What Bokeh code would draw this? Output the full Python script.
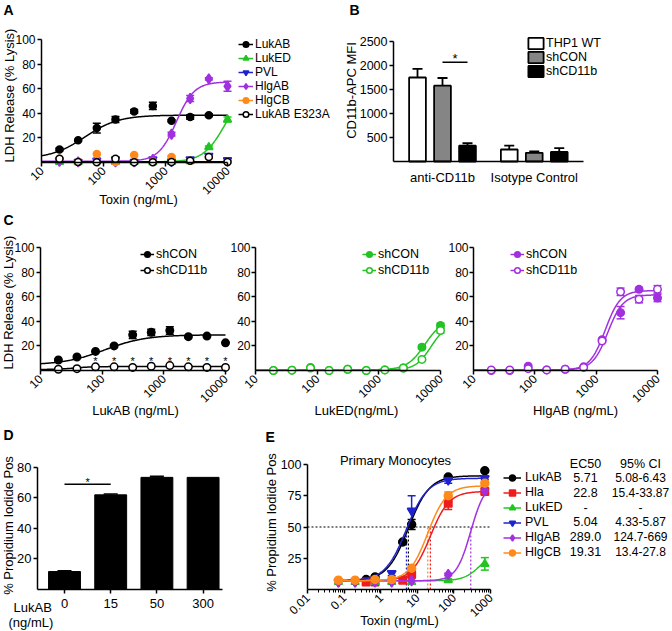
import math
import numpy as np
from bokeh.plotting import figure
from bokeh.layouts import column, row
from bokeh.models import (ColumnDataSource, Whisker, TeeHead, Legend, LegendItem, Label,
                          FixedTicker, Range1d, CustomJSTickFormatter)
from bokeh.core.properties import value
from bokeh.embed import file_html
from bokeh.resources import INLINE

FONT = "Liberation Sans"

# ---------------- DATA ----------------
# Panel A: LDH release vs toxin dose
a_dose = [19.5, 39, 78, 156, 312.5, 625, 1250, 2500, 5000, 10000]
a_names = ["LukAB", "LukED", "PVL", "HlgAB", "HlgCB", "LukAB E323A"]
a_lukab = [10.5, 18, 28, 35, 41.5, 46, 34, 37, 38.5, None]
a_lukab_err = [1, 0.8, 4, 2.5, 1.5, 3, 0.8, 1.8, 1.2, 0]
a_luked = [0.5, 0.3, 1.5, 0.5, 0.5, 0.3, 0.5, 1.0, 12.5, 35]
a_luked_err = [0, 0, 0, 0, 0, 0, 0, 0, 1, 2]
a_pvl = [1.5, 0.5, 1.5, 2.5, 0.5, 2.5, 0.5, 2.5, 5.5, 2]
a_pvl_err = [0, 0, 0, 0, 0, 0, 0, 0, 1, 1]
a_hlgab = [1, 0.5, 2.5, 0.5, 0.5, 2.5, 23, 52, 68, 62]
a_hlgab_err = [0, 0, 0, 0, 0, 0, 1.5, 2.5, 1, 4]
a_hlgcb = [3, 0.5, 7, 0.5, 6, 0.5, 4.5, 1.5, 4.5, 0.5]
a_hlgcb_err = [0, 0, 0, 0, 0, 0, 1, 0, 0, 0]
a_e323a = [3, 0.5, 0.3, 3, 0.3, 0.3, 0.5, 1.5, 4.5, 0.5]
a_e323a_err = [0] * 10
# 4-parameter logistic fits (bottom, top, EC50, hill)
a_fit = [(3, 38.5, 50, 1.6), (0.5, 60, 9000, 2.5), (0.7, 0.7, 100, 1),
         (1, 65.5, 1500, 3), (0.7, 0.7, 100, 1), (0.7, 0.7, 100, 1)]
a_xticks = [10, 100, 1000, 10000]
a_yticks = [20, 40, 60, 80, 100]

# Panel B: CD11b-APC MFI
b_groups = ["anti-CD11b", "Isotype Control"]
b_series = ["THP1 WT", "shCON", "shCD11b"]
b_thp1 = [1750, 250]
b_thp1_err = [180, 80]
b_shcon = [1580, 180]
b_shcon_err = [160, 30]
b_shcd11b = [330, 200]
b_shcd11b_err = [50, 80]
b_sig_y = 2070
b_yticks = [500, 1000, 1500, 2000, 2500]

# Panel C: shCON vs shCD11b
c_dose = [19.5, 39, 78, 156, 312.5, 625, 1250, 2500, 5000, 10000]
c_labels = ["shCON", "shCD11b"]
c1_shcon = [8.5, 11, 15.5, 20, 29, 31, 32.5, 27.5, 28, 22.5]
c1_shcon_err = [0, 0, 0, 0, 3, 2.5, 3, 0, 0, 0]
c1_shcd11b = [1, 1.5, 3, 3, 2.5, 3.5, 4, 3, 2.5, 2.5]
c1_shcd11b_err = [0] * 10
c1_fit = [(4.5, 29, 110, 1.3), (0.8, 3.2, 35, 3)]
c1_star_level = 8
c2_shcon = [0, 0.3, 2.5, 0, 1, 0, 0.5, 2, 19, 36.5]
c2_shcon_err = [0, 0, 0, 0, 0, 0, 0, 0, 1.5, 2]
c2_shcd11b = [0, 0.3, 2, 0, 1, 0, 0.5, 2, 9, 32.5]
c2_shcd11b_err = [0, 0, 0, 0, 0, 0, 0, 0, 1, 2]
c2_fit = [(0.5, 42, 5600, 3), (0.5, 38, 7000, 3.5)]
c3_shcon = [0, 0, 3.5, 0.5, 1, 3, 25, 47, 66, 59]
c3_shcon_err = [0, 0, 0, 0, 0, 0, 1, 5, 1.5, 3]
c3_shcd11b = [0.5, 0.5, 1.5, 0.5, 1, 2.5, 24, 64, 58, 66]
c3_shcd11b_err = [0, 0, 0, 0, 0, 0, 1, 3, 3, 3]
c3_fit = [(0.5, 61.5, 1550, 3.5), (0.5, 65, 1400, 3.5)]

# Panel D: PI positive primary cells
d_labels = ["0", "15", "50", "300"]
d_vals = [11.5, 62, 73.5, 73.5]
d_err = [0.5, 0.6, 0.8, 0]
d_sig_pair = (0, 1)
d_sig_y = 69
d_yticks = [20, 40, 60, 80]

# Panel E: primary monocytes
e_dose = [0.07, 0.2, 0.4, 0.7, 2, 4, 7, 70, 700]
e_names = ["LukAB", "Hla", "LukED", "PVL", "HlgAB", "HlgCB"]
e_lukab = [None, None, 8, 10, None, 38, 52, 90, 95]
e_lukab_err = [0, 0, 0, 1, 0, 1, 4, 0, 1]
e_hla = [None, None, 6, 6, None, 7.5, 12, 69, 78.5]
e_hla_err = [0, 0, 0, 0, 0, 0, 1.5, 5, 2]
e_luked = [6, 6, None, 6, 6, None, 6, 7.5, 20.5]
e_luked_err = [0, 0, 0, 0, 0, 0, 0, 1, 5]
e_pvl = [6, 6, None, None, 13, None, 63, 87.5, 89]
e_pvl_err = [0, 0, 0, 0, 2, 0, 12, 2.5, 1]
e_hlgab = [6, 6, None, 6, 6, None, 7, 12, 79]
e_hlgab_err = [0, 0, 0, 0, 0, 0, 0, 1, 2]
e_hlgcb = [7.5, 7.5, None, 8, 8, None, 17, 75, 85]
e_hlgcb_err = [0, 0, 0, 0, 0, 0, 2.5, 3, 2]
e_fit = [(7, 91, 5.71, 1.5), (7, 78.5, 22.8, 1.7), (7, 30, 500, 2),
         (7, 89, 5.04, 1.5), (7, 86, 289, 2.2), (7, 83, 19.31, 1.7)]
e_ec50 = ["5.71", "22.8", "-", "5.04", "289.0", "19.31"]
e_ci = ["5.08-6.43", "15.4-33.87", "-", "4.33-5.87", "124.7-669", "13.4-27.8"]
e_ec50_line = [5.71, 22.8, None, 5.04, 289.0, 19.31]
e_xticks = [0.01, 0.1, 1, 10, 100, 1000]
e_yticks = [25, 50, 75, 100]

# ---------------- STYLE ----------------
BLACK = "#000000"
GREEN = "#22c422"
BLUE = "#1f22d0"
PURPLE = "#a030e0"
ORANGE = "#ff8a1c"
RED = "#ee1c1c"
GRAY = "#858585"


def fourpl(x, bottom, top, ec50, hill):
    x = np.asarray(x, dtype=float)
    return bottom + (top - bottom) / (1.0 + (ec50 / x) ** hill)


class Geo:
    """Figure placed at a page pixel box; maps page pixels to data (frame = whole figure)."""

    def __init__(self, ox, oy, w, h, xcal, ycal, xlog=False):
        self.ox, self.oy, self.w, self.h, self.xlog = ox, oy, w, h, xlog
        (v0, p0), (v1, p1) = xcal
        if xlog:
            v0, v1 = math.log10(v0), math.log10(v1)
        self.xs = (p1 - p0) / (v1 - v0)
        self.xv0, self.xp0 = v0, p0
        (u0, q0), (u1, q1) = ycal
        self.ys = (q1 - q0) / (u1 - u0)
        self.yv0, self.yp0 = u0, q0

    def xval(self, px):
        v = self.xv0 + (px - self.xp0) / self.xs
        return 10 ** v if self.xlog else v

    def yval(self, py):
        return self.yv0 + (py - self.yp0) / self.ys

    def sx(self, px):
        return px - self.ox

    def sy(self, py):
        return self.oy + self.h - py


def mkfig(g):
    p = figure(width=g.w, height=g.h,
               x_range=Range1d(g.xval(g.ox), g.xval(g.ox + g.w)),
               y_range=Range1d(g.yval(g.oy + g.h), g.yval(g.oy)),
               x_axis_type="log" if g.xlog else "linear",
               output_backend="svg", toolbar_location=None, min_border=0, title=None)
    p.outline_line_color = None
    p.grid.visible = False
    p.background_fill_color = "white"
    p.border_fill_color = "white"
    for ax in list(p.xaxis) + list(p.yaxis):
        ax.axis_line_width = 1.5
        ax.axis_line_color = "black"
        ax.major_tick_line_width = 1.5
        ax.major_tick_line_color = "black"
        ax.major_tick_out = 4
        ax.major_tick_in = 0
        ax.minor_tick_line_color = None
        ax.major_label_text_font = FONT
        ax.major_label_text_color = "black"
        ax.major_label_text_font_size = "12px"
        ax.major_label_standoff = 2
    return p


def place_axes(p, x_at_y, y_at_x, xbounds, ybounds):
    p.xaxis.fixed_location = x_at_y
    p.yaxis.fixed_location = y_at_x
    p.xaxis.bounds = xbounds
    p.yaxis.bounds = ybounds


def lab(p, g, text, ax, ay, size="13px", align="center", baseline="middle",
        angle=0.0, style="normal"):
    p.add_layout(Label(x=g.sx(ax), y=g.sy(ay), x_units="screen", y_units="screen", text=text,
                       text_font=FONT, text_font_size=size, text_align=align,
                       text_baseline=baseline, angle=angle, text_font_style=style,
                       text_color="black"))


def ylab(p, g, text, ax, ay):
    lab(p, g, text, ax, ay, angle=math.pi / 2)


def letter(p, g, text, ax, ay):
    lab(p, g, text, ax, ay, size="14px", align="left", baseline="top", style="bold")


def log_formatter():
    return CustomJSTickFormatter(code="return String(Number(tick.toPrecision(6)))")


def add_series(p, x, y, err, color, marker, size, fill, fit, xgrid):
    rends = []
    if fit is not None:
        rends.append(p.line(xgrid, fourpl(xgrid, *fit), line_color=color, line_width=1.5))
    pts = [(xi, yi, e) for xi, yi, e in zip(x, y, err) if yi is not None]
    ebar = [(xi, yi, e) for xi, yi, e in pts if e > 0]
    if ebar:
        src = ColumnDataSource(dict(x=[t[0] for t in ebar],
                                    lo=[t[1] - t[2] for t in ebar],
                                    up=[t[1] + t[2] for t in ebar]))
        p.add_layout(Whisker(source=src, base="x", lower="lo", upper="up",
                             line_color=color, line_width=1.5,
                             upper_head=TeeHead(size=8, line_color=color, line_width=1.5),
                             lower_head=TeeHead(size=8, line_color=color, line_width=1.5)))
    rends.append(p.scatter([t[0] for t in pts], [t[1] for t in pts], marker=marker, size=size,
                           fill_color=fill, line_color=color, line_width=1.5))
    return rends


def add_legend(p, g, items, left_px, top_px, gw, gh, standoff, size="12px"):
    n = len(items)
    bottom_px = top_px + n * gh
    p.add_layout(Legend(items=items, location=(g.sx(left_px), g.sy(bottom_px)),
                        glyph_width=gw, glyph_height=gh, label_standoff=standoff,
                        spacing=0, padding=0, margin=0, border_line_color=None,
                        background_fill_alpha=0, label_text_font=FONT,
                        label_text_font_size=size, label_height=8,
                        label_text_color="black"))


def dose_panel(g):
    p = mkfig(g)
    p.xaxis.ticker = FixedTicker(ticks=a_xticks)
    p.xaxis.formatter = log_formatter()
    p.xaxis.major_label_orientation = math.pi / 4
    p.yaxis.ticker = FixedTicker(ticks=a_yticks)
    place_axes(p, 0, a_xticks[0], (a_xticks[0], a_xticks[-1]), (0, 100))
    return p


# ---------------- PANEL A ----------------
gA = Geo(0, 0, 336, 210, ((10, 41), (10000, 227)), ((0, 162), (100, 39)), xlog=True)
pa = dose_panel(gA)
grid_a = np.geomspace(10, 10000, 240)
a_y = [a_lukab, a_luked, a_pvl, a_hlgab, a_hlgcb, a_e323a]
a_e = [a_lukab_err, a_luked_err, a_pvl_err, a_hlgab_err, a_hlgcb_err, a_e323a_err]
a_col = [BLACK, GREEN, BLUE, PURPLE, ORANGE, BLACK]
a_mk = ["circle", "triangle", "inverted_triangle", "diamond", "circle", "circle"]
a_sz = [7, 8, 8, 10, 7, 7]
a_fill = [BLACK, GREEN, BLUE, PURPLE, ORANGE, "white"]
a_items = []
for i, name in enumerate(a_names):
    r = add_series(pa, a_dose, a_y[i], a_e[i], a_col[i], a_mk[i], a_sz[i], a_fill[i], a_fit[i], grid_a)
    a_items.append(LegendItem(label=name, renderers=r))
add_legend(pa, gA, a_items, 238, 36.5, 15, 14, 2)
ylab(pa, gA, "LDH Release (% Lysis)", 9, 95)
lab(pa, gA, "Toxin (ng/mL)", 138, 199)
letter(pa, gA, "A", 3, 1)

# ---------------- PANEL B ----------------
GROUP_GAP = 0.67
gB = Geo(336, 0, 335, 210, ((0, 417), (1, 442)), ((0, 161), (2500, 41)))
pb = mkfig(gB)
b_vals = [b_thp1, b_shcon, b_shcd11b]
b_errs = [b_thp1_err, b_shcon_err, b_shcd11b_err]
b_fills = ["white", GRAY, BLACK]
step = len(b_series) + GROUP_GAP
b_items = []
for si, sname in enumerate(b_series):
    xs = [gi * step + si for gi in range(len(b_groups))]
    r = pb.vbar(x=xs, top=b_vals[si], width=0.67, bottom=0, fill_color=b_fills[si],
                line_color="black", line_width=1.8)
    src = ColumnDataSource(dict(x=xs, lo=b_vals[si], up=[v + e for v, e in zip(b_vals[si], b_errs[si])]))
    pb.add_layout(Whisker(source=src, base="x", lower="lo", upper="up", line_color="black",
                          line_width=1.8, lower_head=None,
                          upper_head=TeeHead(size=10, line_color="black", line_width=1.8)))
    b_items.append(LegendItem(label=sname, renderers=[r]))
sig_x = [0 * step + 1, 0 * step + 2]
pb.line(sig_x, [b_sig_y, b_sig_y], line_color="black", line_width=1.5)
pb.text(x=[sum(sig_x) / 2], y=[b_sig_y + 80], text=["*"], text_font=value(FONT),
        text_font_size="13px", text_align="center", text_baseline="middle", text_color="black")
b_centers = [gi * step + 1 for gi in range(len(b_groups))]
pb.xaxis.ticker = FixedTicker(ticks=b_centers)
pb.xaxis.formatter = CustomJSTickFormatter(args=dict(c=b_centers, n=b_groups), code="""
let b = 0; for (let i = 0; i < c.length; i++) { if (Math.abs(c[i]-tick) < Math.abs(c[b]-tick)) b = i }
return n[b]""")
pb.xaxis.major_tick_out = 0
pb.xaxis.major_tick_line_color = None
pb.xaxis.major_label_standoff = 8
pb.xaxis.major_label_text_font_size = "13px"
pb.yaxis.ticker = FixedTicker(ticks=b_yticks)
pb.yaxis.major_label_text_font_size = "12.5px"
place_axes(pb, 0, gB.xval(393), (gB.xval(393), gB.xval(583)), (0, 2500))
add_legend(pb, gB, b_items, 526, 36, 19, 14, 1, size="12.5px")
ylab(pb, gB, "CD11b-APC MFI", 351, 90)
letter(pb, gB, "B", 349, 1)

# ---------------- PANEL C ----------------
grid_c = np.geomspace(10, 10000, 240)
gC1 = Geo(0, 210, 230, 208, ((10, 40), (10000, 225)), ((0, 370), (100, 247)), xlog=True)
gC2 = Geo(230, 210, 215, 208, ((10, 255), (10000, 440)), ((0, 370), (100, 247)), xlog=True)
gC3 = Geo(445, 210, 226, 208, ((10, 473), (10000, 657)), ((0, 370), (100, 247)), xlog=True)
pc1 = dose_panel(gC1)
pc2 = dose_panel(gC2)
pc3 = dose_panel(gC3)
pc2.yaxis.major_label_standoff = 1
pc3.yaxis.major_label_standoff = 1
c_sets = [
    (pc1, gC1, BLACK, [c1_shcon, c1_shcd11b], [c1_shcon_err, c1_shcd11b_err], c1_fit, 140, "LukAB (ng/mL)", 135),
    (pc2, gC2, GREEN, [c2_shcon, c2_shcd11b], [c2_shcon_err, c2_shcd11b_err], c2_fit, 362, "LukED(ng/mL)", 356),
    (pc3, gC3, PURPLE, [c3_shcon, c3_shcd11b], [c3_shcon_err, c3_shcd11b_err], c3_fit, 510, "HlgAB (ng/mL)", 575),
]
for p, g, col, ys, es, fits, legx, xlabel, labx in c_sets:
    items = []
    for k in range(2):
        fill = col if k == 0 else "white"
        r = add_series(p, c_dose, ys[k], es[k], col, "circle", 7.5, fill, fits[k], grid_c)
        items.append(LegendItem(label=c_labels[k], renderers=r))
    add_legend(p, g, items, legx, 246, 14, 16, 2, size="12.5px")
    lab(p, g, xlabel, labx, 410)
pc1.text(x=c_dose[1:], y=[c1_star_level] * (len(c_dose) - 1), text=["*"] * (len(c_dose) - 1),
         text_font=value(FONT), text_font_size="11px", text_align="center",
         text_baseline="middle", text_color="black")
ylab(pc1, gC1, "LDH Release (% Lysis)", 8, 302)
letter(pc1, gC1, "C", 3, 211)

# ---------------- PANEL D ----------------
gD = Geo(0, 418, 250, 212, ((0, 64), (1, 110.2)), ((0, 588.5), (80, 467)))
pd = mkfig(gD)
d_x = list(range(len(d_labels)))
pd.vbar(x=d_x, top=d_vals, width=0.69, fill_color=BLACK, line_color=BLACK)
d_src = ColumnDataSource(dict(x=[x for x, e in zip(d_x, d_err) if e > 0],
                              lo=[v for v, e in zip(d_vals, d_err) if e > 0],
                              up=[v + e for v, e in zip(d_vals, d_err) if e > 0]))
pd.add_layout(Whisker(source=d_src, base="x", lower="lo", upper="up", line_color=BLACK,
                      line_width=1.5, lower_head=None,
                      upper_head=TeeHead(size=14, line_color=BLACK, line_width=1.5)))
pd.line(list(d_sig_pair), [d_sig_y, d_sig_y], line_color="black", line_width=1.5)
pd.text(x=[sum(d_sig_pair) / 2], y=[d_sig_y + 1.5], text=["*"], text_font=value(FONT),
        text_font_size="11px", text_align="center", text_baseline="middle", text_color="black")
pd.xaxis.ticker = FixedTicker(ticks=d_x)
pd.xaxis.formatter = CustomJSTickFormatter(args=dict(n=d_labels), code="return n[Math.round(tick)]")
pd.xaxis.major_label_standoff = 6
pd.xaxis.major_label_text_font_size = "13px"
pd.yaxis.ticker = FixedTicker(ticks=d_yticks)
pd.yaxis.major_label_text_font_size = "13px"
place_axes(pd, 0, gD.xval(37), (gD.xval(37), gD.xval(222)), (0, 80))
ylab(pd, gD, "% Propidium Iodide Pos", 8, 525)
lab(pd, gD, "LukAB", 13, 607, align="left")
lab(pd, gD, "(ng/mL)", 8, 622, align="left")
letter(pd, gD, "D", 3, 426)

# ---------------- PANEL E ----------------
gE = Geo(250, 418, 421, 212, ((0.01, 307), (1000, 490)), ((0, 589), (100, 464)), xlog=True)
pe = mkfig(gE)
pe.xaxis.ticker = FixedTicker(ticks=e_xticks,
                              minor_ticks=[m * t for t in e_xticks[:-1] for m in range(2, 10)])
pe.xaxis.formatter = log_formatter()
pe.xaxis.minor_tick_line_color = "black"
pe.xaxis.minor_tick_line_width = 1
pe.xaxis.minor_tick_out = 3
pe.xaxis.minor_tick_in = 0
pe.xaxis.major_label_orientation = math.pi / 4
pe.yaxis.ticker = FixedTicker(ticks=e_yticks)
pe.yaxis.major_label_text_font_size = "12.5px"
place_axes(pe, 0, e_xticks[0], (e_xticks[0], e_xticks[-1]), (0, 100))
pe.segment(x0=[e_xticks[0]], y0=[50], x1=[e_xticks[-1]], y1=[50],
           line_color="black", line_dash="2 2", line_width=1.2)
e_y = [e_lukab, e_hla, e_luked, e_pvl, e_hlgab, e_hlgcb]
e_e = [e_lukab_err, e_hla_err, e_luked_err, e_pvl_err, e_hlgab_err, e_hlgcb_err]
e_col = [BLACK, RED, GREEN, BLUE, PURPLE, ORANGE]
e_mk = ["circle", "square", "triangle", "inverted_triangle", "diamond", "circle"]
e_sz = [8, 7.5, 8, 8.5, 10, 8]
for i in range(len(e_names)):
    if e_ec50_line[i] is not None:
        pe.segment(x0=[e_ec50_line[i]], y0=[0], x1=[e_ec50_line[i]], y1=[50],
                   line_color=e_col[i], line_dash="2 2", line_width=1.2)
grid_e = np.geomspace(e_dose[0], e_dose[-1], 240)
e_items = []
for i, name in enumerate(e_names):
    r = add_series(pe, e_dose, e_y[i], e_e[i], e_col[i], e_mk[i], e_sz[i], e_col[i], e_fit[i], grid_e)
    e_items.append(LegendItem(label=name, renderers=r))
E_ROW0, E_ROWH = 477, 14.8
add_legend(pe, gE, e_items, 503, E_ROW0 - 7.5, 18, 15, 4, size="12.5px")
lab(pe, gE, "Primary Monocytes", 395, 460)
lab(pe, gE, "EC50", 585, 463, size="12.5px")
lab(pe, gE, "95% CI", 640, 463, size="12.5px")
for i in range(len(e_names)):
    yrow = E_ROW0 + E_ROWH * i
    lab(pe, gE, e_ec50[i], 585, yrow, size="12.5px")
    lab(pe, gE, e_ci[i], 640, yrow, size="12px")
ylab(pe, gE, "% Propidium Iodide Pos", 271, 522)
lab(pe, gE, "Toxin (ng/mL)", 399, 620)
letter(pe, gE, "E", 265, 428)

layout = column(row(pa, pb), row(pc1, pc2, pc3), row(pd, pe))
open("out.html", "w").write(file_html(layout, INLINE))
